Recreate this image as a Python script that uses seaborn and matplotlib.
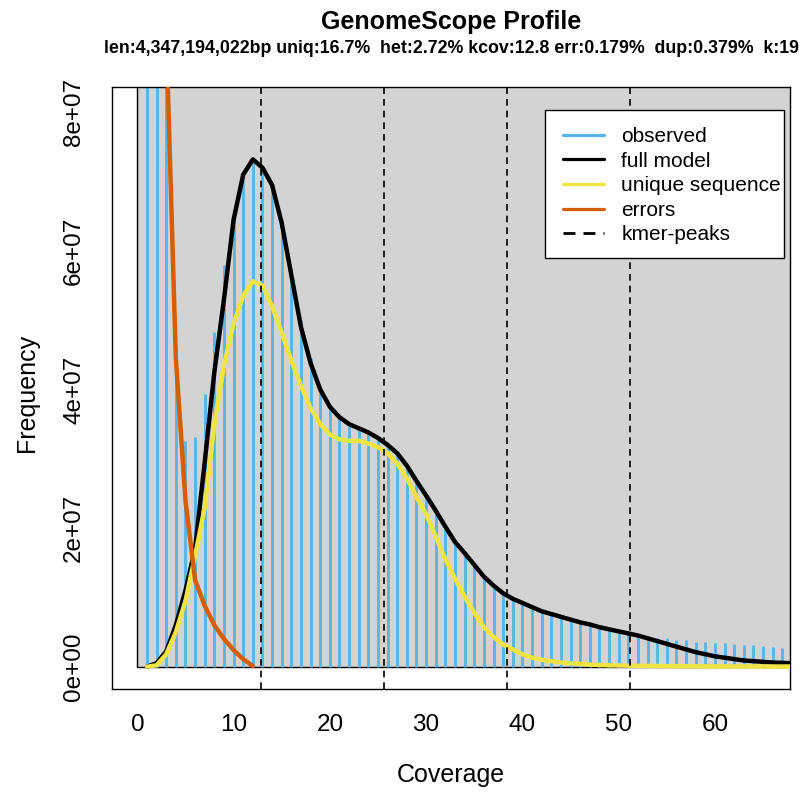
import numpy as np
import pandas as pd
import matplotlib
matplotlib.use("Agg")
import matplotlib.pyplot as plt
import seaborn as sns
from matplotlib.lines import Line2D
from matplotlib.patches import Rectangle

# ---------------- data ----------------
obs_cov = list(range(1, 68))
observed = [25.0, 15.0, 10.0, 4.6, 3.26, 3.31, 3.93, 4.83, 5.80, 6.60,
            7.07, 7.27, 7.17, 6.88, 6.45, 5.75, 5.00, 4.45, 4.05, 3.78,
            3.62, 3.52, 3.45, 3.39, 3.31, 3.21, 3.08, 2.91, 2.70, 2.48,
            2.26, 2.04, 1.83, 1.65, 1.48, 1.32, 1.19, 1.08, 1.00, 0.93,
            0.87, 0.82, 0.77, 0.73, 0.69, 0.65, 0.62, 0.58, 0.55, 0.52,
            0.49, 0.46, 0.44, 0.42, 0.41, 0.39, 0.385, 0.36, 0.36, 0.34,
            0.335, 0.327, 0.315, 0.31, 0.30, 0.289, 0.265]

model_cov = list(range(1, 69))
full_model = [0.0, 0.05, 0.22, 0.6, 1.1, 1.7, 2.95, 4.25, 5.3, 6.45,
              7.1, 7.32, 7.2, 6.95, 6.4, 5.65, 4.9, 4.38, 4.0, 3.75,
              3.6, 3.5, 3.44, 3.38, 3.3, 3.2, 3.08, 2.9, 2.68, 2.47,
              2.25, 2.02, 1.8, 1.64, 1.47, 1.3, 1.17, 1.06, 0.98, 0.92,
              0.86, 0.8, 0.76, 0.72, 0.68, 0.64, 0.61, 0.57, 0.54, 0.51,
              0.48, 0.45, 0.41, 0.37, 0.33, 0.29, 0.25, 0.21, 0.18, 0.15,
              0.13, 0.11, 0.09, 0.08, 0.07, 0.06, 0.055, 0.05]
unique_seq = [0.0, 0.02, 0.18, 0.5, 0.95, 1.6, 2.3, 3.5, 4.35, 4.95,
              5.35, 5.56, 5.5, 5.2, 4.82, 4.42, 4.05, 3.73, 3.5, 3.35,
              3.28, 3.26, 3.26, 3.22, 3.17, 3.08, 2.93, 2.72, 2.45, 2.2,
              1.88, 1.55, 1.27, 1.01, 0.78, 0.57, 0.43, 0.32, 0.25, 0.18,
              0.13, 0.10, 0.08, 0.06, 0.05, 0.04, 0.03, 0.025, 0.02, 0.018,
              0.015, 0.013, 0.011, 0.01, 0.009, 0.008, 0.007, 0.006, 0.006, 0.005,
              0.005, 0.004, 0.004, 0.004, 0.003, 0.003, 0.003, 0.003]

err_cov = list(range(1, 13))
errors = [30.0, 16.0, 9.16, 4.45, 2.40, 1.25, 0.88, 0.60, 0.40, 0.24, 0.11, 0.01]

kmer_peaks = [12.8, 25.6, 38.4, 51.2]
x_ticks = [0, 10, 20, 30, 40, 50, 60]
y_ticks = [0, 2e7, 4e7, 6e7, 8e7]
y_tick_labels = ["0e+00", "2e+07", "4e+07", "6e+07", "8e+07"]
SCALE = 1e7

title_text = "GenomeScope Profile"
subtitle_text = ("len:4,347,194,022bp uniq:16.7%  het:2.72% kcov:12.8 "
                 "err:0.179%  dup:0.379%  k:19")
x_label = "Coverage"
y_label = "Frequency"
legend_labels = ["observed", "full model", "unique sequence", "errors", "kmer-peaks"]

C_HIST = "#56B4E9"
C_MODEL = "black"
C_UNIQ = "#F0E442"
C_ERR = "#D55E00"
C_BG = "#D3D3D3"

# ---------------- style ----------------
sns.set_theme(style="white")
plt.rcParams['font.family'] = ['Liberation Sans', 'DejaVu Sans']
plt.rcParams['axes.edgecolor'] = 'black'
plt.rcParams['axes.linewidth'] = 1.0

W, H = 803, 795
fig = plt.figure(figsize=(W / 100, H / 100), dpi=100)
fig.patch.set_facecolor('white')
L, R, T, B = 112.3, 790.0, 87.3, 689.3
ax = fig.add_axes([L / W, 1 - B / H, (R - L) / W, (B - T) / H])
ax.set_facecolor('white')

obs_vals = [v * SCALE for v in observed]
model_vals = [v * SCALE for v in full_model]
uniq_vals = [v * SCALE for v in unique_seq]
err_vals = [v * SCALE for v in errors]

# background rectangle
ax.add_patch(Rectangle((0, 0), max(obs_cov) * 1.1, max(obs_vals) * 1.1,
                       facecolor=C_BG, edgecolor='black', lw=1.0, zorder=1))
# observed histogram (type="h")
ax.vlines(obs_cov, 0, obs_vals, colors=C_HIST, lw=2.0, zorder=2)

df_model = pd.DataFrame({"cov": model_cov, "full": model_vals, "uniq": uniq_vals})
df_err = pd.DataFrame({"cov": err_cov, "err": err_vals})
line_kw = dict(lw=3.2, solid_joinstyle='round', solid_capstyle='round')
sns.lineplot(data=df_model, x="cov", y="full", color=C_MODEL, ax=ax, zorder=3, **line_kw)
sns.lineplot(data=df_model, x="cov", y="uniq", color=C_UNIQ, ax=ax, zorder=4, **line_kw)
sns.lineplot(data=df_err, x="cov", y="err", color=C_ERR, ax=ax, zorder=4, **line_kw)

for p in kmer_peaks:
    ax.axvline(p, color='black', ls=(0, (4, 3)), lw=1.2, zorder=5)

ax.set_xlim(-2.6, 67.8)
ax.set_ylim(-0.326e7, 8.36e7)
ax.set_xticks(x_ticks)
ax.set_yticks(y_ticks)
ax.set_yticklabels(y_tick_labels, rotation=90, va='center')
ax.tick_params(axis='both', direction='out', length=9.5, width=1.0,
               color='black', labelsize=17.5, labelcolor='black')
ax.tick_params(axis='x', pad=8.5)
ax.tick_params(axis='y', pad=10)
ax.set_xlabel("")
ax.set_ylabel("")
for s in ax.spines.values():
    s.set_visible(True)
    s.set_color('black')
    s.set_linewidth(1.0)
ax.grid(False)

# axis labels
fig.text(((L + R) / 2) / W, 1 - 775 / H, x_label, ha='center', va='center',
         fontsize=18, color='black')
fig.text(27 / W, 1 - 393 / H, y_label, ha='center', va='center',
         rotation=90, fontsize=18, color='black')

# titles
fig.text(((L + R) / 2) / W, 1 - 29 / H, title_text, ha='center', va='baseline',
         fontsize=18, fontweight='bold', color='black')
fig.text(((L + R) / 2) / W, 1 - 53 / H, subtitle_text, ha='center', va='baseline',
         fontsize=12.8, fontweight='bold', color='black')

# legend frame (drawn as a box in figure pixels) + legend entries
LX0, LY0, LX1, LY1 = 545, 110, 784, 258
frame = Rectangle((LX0 / W, 1 - LY1 / H), (LX1 - LX0) / W, (LY1 - LY0) / H,
                  transform=fig.transFigure, facecolor='white', edgecolor='black',
                  lw=1.0, zorder=9, clip_on=False)
ax.add_patch(frame)
handles = [Line2D([], [], color=C_HIST, lw=2.3),
           Line2D([], [], color=C_MODEL, lw=2.3),
           Line2D([], [], color=C_UNIQ, lw=2.3),
           Line2D([], [], color=C_ERR, lw=2.3),
           Line2D([], [], color='black', lw=2.0, ls=(0, (4.3, 2.9)))]
leg = ax.legend(handles, legend_labels, loc='upper left',
                bbox_to_anchor=(563 / W, 1 - 127 / H), bbox_transform=fig.transFigure,
                fontsize=15, frameon=False, borderpad=0.0,
                labelspacing=0.27, handlelength=1.95, handletextpad=0.85,
                borderaxespad=0)
for t in leg.get_texts():
    t.set_color('black')
leg.set_zorder(10)

fig.savefig("out.png", dpi=100, facecolor='white')
